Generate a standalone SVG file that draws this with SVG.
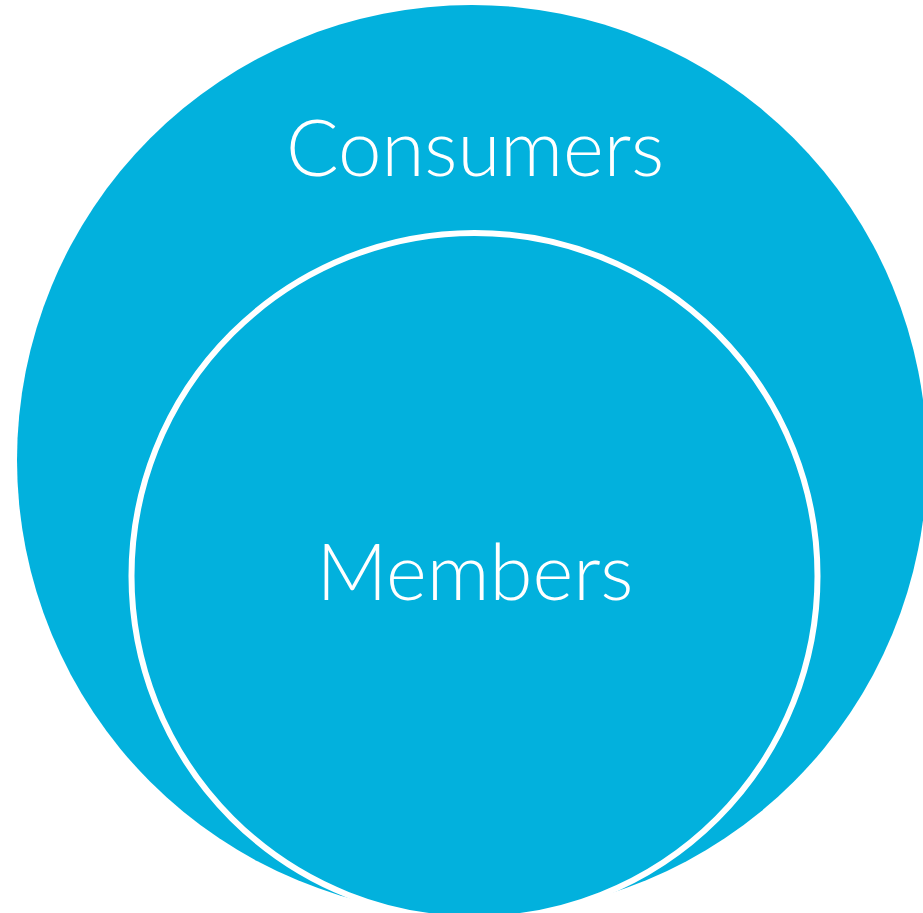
<svg xmlns="http://www.w3.org/2000/svg" width="923" height="913" viewBox="0 0 923 913">
<style>
.lbl{font-family:Lato,"Open Sans","Liberation Sans",sans-serif;font-weight:300;fill:#fff;text-anchor:middle}
</style>
<rect width="923" height="913" fill="#fff"/>
<g id="consumers">
<circle cx="472" cy="460" r="455" fill="#02B1DD"/>
<text class="lbl" x="475" y="176" font-size="78">Consumers</text>
</g>
<g id="members">
<circle cx="474.5" cy="576" r="343" fill="#02B1DD" stroke="#fff" stroke-width="6"/>
<text class="lbl" x="475" y="600" font-size="78">Members</text>
</g>
<g id="connectors"/>
</svg>
